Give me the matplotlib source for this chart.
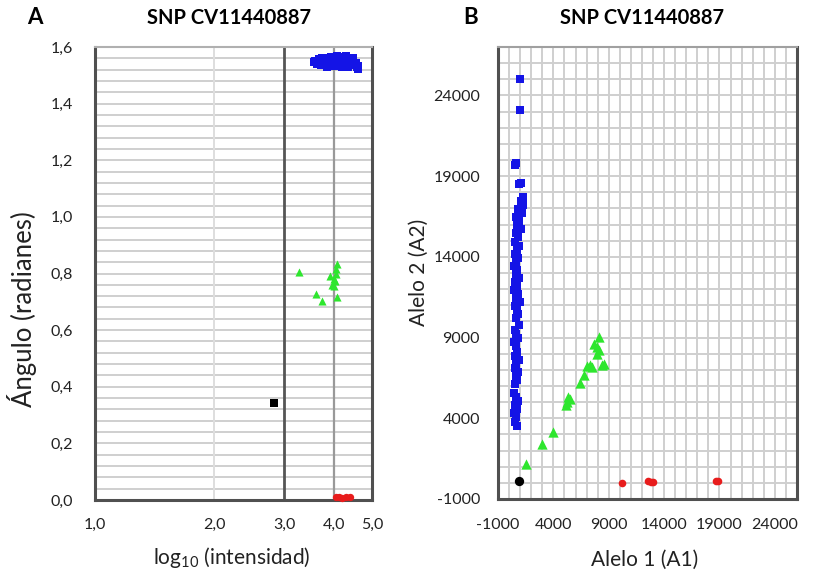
import matplotlib
matplotlib.use("Agg")
import matplotlib.pyplot as plt
import numpy as np

plt.rcParams['font.family'] = ['Lato', 'DejaVu Sans']
plt.rcParams['mathtext.default'] = 'regular'

# ---------------- Panel A data (log10 intensity vs angle) ----------------
a_blue_x = [3.56, 3.60, 3.64, 3.68, 3.70, 3.74, 3.78, 3.80, 3.84, 3.88, 3.90, 3.94,
            3.98, 4.00, 4.04, 4.08, 4.10, 4.14, 4.18, 4.20, 4.24, 4.28, 4.30, 4.34,
            4.38, 4.42, 4.46, 4.50, 4.54, 4.58, 4.62, 3.72, 3.86, 3.96, 4.06, 4.16,
            4.26, 4.36, 4.48, 4.56, 3.82, 4.02, 4.22, 4.40, 4.60]
a_blue_y = [1.547, 1.552, 1.541, 1.556, 1.548, 1.560, 1.543, 1.554, 1.562, 1.538,
            1.551, 1.566, 1.545, 1.558, 1.532, 1.568, 1.549, 1.540, 1.563, 1.528,
            1.555, 1.546, 1.567, 1.536, 1.558, 1.544, 1.552, 1.535, 1.545, 1.528,
            1.532, 1.537, 1.528, 1.536, 1.552, 1.555, 1.533, 1.529, 1.560, 1.542,
            1.548, 1.542, 1.546, 1.538, 1.522]
a_green_x = [3.28, 4.08, 4.05, 3.92, 4.04, 3.96, 4.02, 4.09, 3.61, 3.74, 4.00, 4.06]
a_green_y = [0.805, 0.832, 0.815, 0.790, 0.773, 0.761, 0.755, 0.718, 0.726, 0.702, 0.780, 0.800]
a_black_x = [2.83]
a_black_y = [0.342]
a_red_x = [4.05, 4.12, 4.20, 4.30, 4.40]
a_red_y = [0.010, 0.012, 0.008, 0.011, 0.010]

a_xticks = [1, 2, 3, 4, 5]
a_xticklabels = ["1,0", "2,0", "3,0", "4,0", "5,0"]
a_yticks = [0.0, 0.2, 0.4, 0.6, 0.8, 1.0, 1.2, 1.4, 1.6]
a_yticklabels = ["0,0", "0,2", "0,4", "0,6", "0,8", "1,0", "1,2", "1,4", "1,6"]

# ---------------- Panel B data (allele intensities) ----------------
b_blue_y = [3500, 3800, 4100, 4350, 4600, 4850, 5100, 5300, 5550, 6100, 6350, 6600,
            6850, 7100, 7350, 7600, 7850, 8100, 8500, 8750, 9000, 9250, 9500, 9750,
            10200, 10450, 10700, 10950, 11200, 11450, 11700, 11950, 12200, 12450,
            12700, 12950, 13200, 13450, 13700, 13950, 14200, 14450, 14700, 14950,
            15200, 15450, 15700, 15950, 16200, 16450, 16700, 16950, 17200, 17450,
            17700, 18500, 18600, 19700, 19800, 23100, 25000]
b_blue_x = [700, 500, 600, 400, 700, 550, 800, 600, 450, 500, 700, 600,
            850, 500, 650, 900, 550, 750, 600, 400, 800, 650, 500, 900,
            600, 850, 700, 500, 1000, 650, 800, 450, 700, 550,
            900, 600, 750, 400, 650, 850, 550, 700, 900, 500,
            800, 600, 1050, 700, 900, 650, 1200, 800, 1300, 1100,
            1300, 900, 1050, 500, 650, 950, 950]
b_green_x = [1511, 3009, 3996, 5099, 5251, 5300, 5484, 6444, 6740, 7045, 7493, 7637,
             7942, 8085, 8085, 8390, 8534, 7900, 7300]
b_green_y = [1150, 2400, 3180, 4840, 5010, 5300, 5200, 6205, 6660, 7240, 7180, 8627,
             8006, 9043, 8210, 7323, 7385, 8420, 7280]
b_black_x = [910]
b_black_y = [100]
b_red_x = [10184, 12570, 12800, 13018, 18704, 18850]
b_red_y = [0, 100, 80, 50, 137, 100]

b_ticks = [-1000, 4000, 9000, 14000, 19000, 24000]

BLUE = "#1414e6"
GREEN = "#2ee62e"
RED = "#e81c1c"
GRID = "#cfcfcf"
FRAME = "#505050"

fig = plt.figure(figsize=(8.14, 5.73), dpi=100)
W, H = 814, 573

def ax_rect(l, r, t, b):
    return [l / W, 1 - b / H, (r - l) / W, (b - t) / H]

# ---------------- Panel A ----------------
axA = fig.add_axes(ax_rect(95, 372, 47, 500))
axA.set_xscale('log')
axA.set_xlim(1, 5)
axA.set_ylim(0, 1.6)
for yv in np.arange(0.04, 1.6, 0.04):
    axA.axhline(yv, color=GRID, lw=1.4, zorder=0)
axA.axvline(2, color="#dedede", lw=1.4, zorder=0)
axA.axvline(3, color="#555555", lw=2.0, zorder=0)
axA.axvline(4, color="#999999", lw=1.6, zorder=0)

axA.scatter(a_blue_x, a_blue_y, marker='s', s=28, color=BLUE, lw=0, zorder=3)
axA.scatter(a_green_x, a_green_y, marker='^', s=34, color=GREEN, lw=0, zorder=3)
axA.scatter(a_black_x, a_black_y, marker='s', s=40, color='black', lw=0, zorder=3)
axA.scatter(a_red_x, a_red_y, marker='o', s=28, color=RED, lw=0, zorder=3, clip_on=False)

axA.xaxis.set_major_locator(matplotlib.ticker.FixedLocator(a_xticks))
axA.xaxis.set_minor_locator(matplotlib.ticker.NullLocator())
axA.set_xticklabels(a_xticklabels)
axA.set_yticks(a_yticks)
axA.set_yticklabels(a_yticklabels)
axA.tick_params(axis='both', length=0, labelsize=11.5, colors='#222222')
axA.tick_params(axis='x', pad=13)
axA.tick_params(axis='y', pad=16)
for side in ['left', 'right', 'bottom']:
    axA.spines[side].set_color(FRAME)
    axA.spines[side].set_linewidth(2.2)
axA.spines['top'].set_color("#b0b0b0")
axA.spines['top'].set_linewidth(1.5)

# ---------------- Panel B ----------------
axB = fig.add_axes(ax_rect(498, 797, 47, 499))
axB.set_xlim(-1000, 26000)
axB.set_ylim(-1000, 27000)
for xv in np.arange(0, 26000, 1000):
    axB.axvline(xv, color=GRID, lw=1.4, zorder=0)
for yv in np.arange(0, 27000, 1000):
    axB.axhline(yv, color=GRID, lw=1.4, zorder=0)

axB.scatter(b_blue_x, b_blue_y, marker='s', s=34, color=BLUE, lw=0, zorder=3)
axB.scatter(b_green_x, b_green_y, marker='^', s=55, color=GREEN, lw=0, zorder=3)
axB.scatter(b_black_x, b_black_y, marker='o', s=45, color='black', lw=0, zorder=3)
axB.scatter(b_red_x, b_red_y, marker='o', s=30, color=RED, lw=0, zorder=3)

axB.set_xticks(b_ticks)
axB.set_yticks(b_ticks)
axB.set_xticklabels([str(t) for t in b_ticks])
axB.set_yticklabels([str(t) for t in b_ticks])
axB.tick_params(axis='both', length=0, labelsize=11.5, colors='#222222')
axB.tick_params(axis='x', pad=14)
axB.tick_params(axis='y', pad=13)
for side in ['left', 'right', 'bottom']:
    axB.spines[side].set_color(FRAME)
    axB.spines[side].set_linewidth(2.2)
axB.spines['top'].set_color("#a0a0a0")
axB.spines['top'].set_linewidth(1.5)

# ---------------- Text ----------------
fig.text(35 / W, 1 - 18 / H, "A", fontsize=16, fontweight='bold', ha='center', va='center')
fig.text(471 / W, 1 - 18 / H, "B", fontsize=16, fontweight='bold', ha='center', va='center')
fig.text(229 / W, 1 - 18 / H, "SNP CV11440887", fontsize=14.5, fontweight='bold', ha='center', va='center')
fig.text(642 / W, 1 - 18 / H, "SNP CV11440887", fontsize=14.5, fontweight='bold', ha='center', va='center')

fig.text(232 / W, 1 - 557 / H, "log$_{10}$ (intensidad)", fontsize=15, ha='center', va='center', color='#222222')
fig.text(645 / W, 1 - 560 / H, "Alelo 1 (A1)", fontsize=15, ha='center', va='center', color='#222222')
fig.text(22 / W, 1 - 309 / H, "Ángulo (radianes)", fontsize=18.5, rotation=90, ha='center', va='center', color='#222222')
fig.text(419 / W, 1 - 272 / H, "Alelo 2 (A2)", fontsize=15, rotation=90, ha='center', va='center', color='#222222')

fig.savefig("out.png", dpi=100)
